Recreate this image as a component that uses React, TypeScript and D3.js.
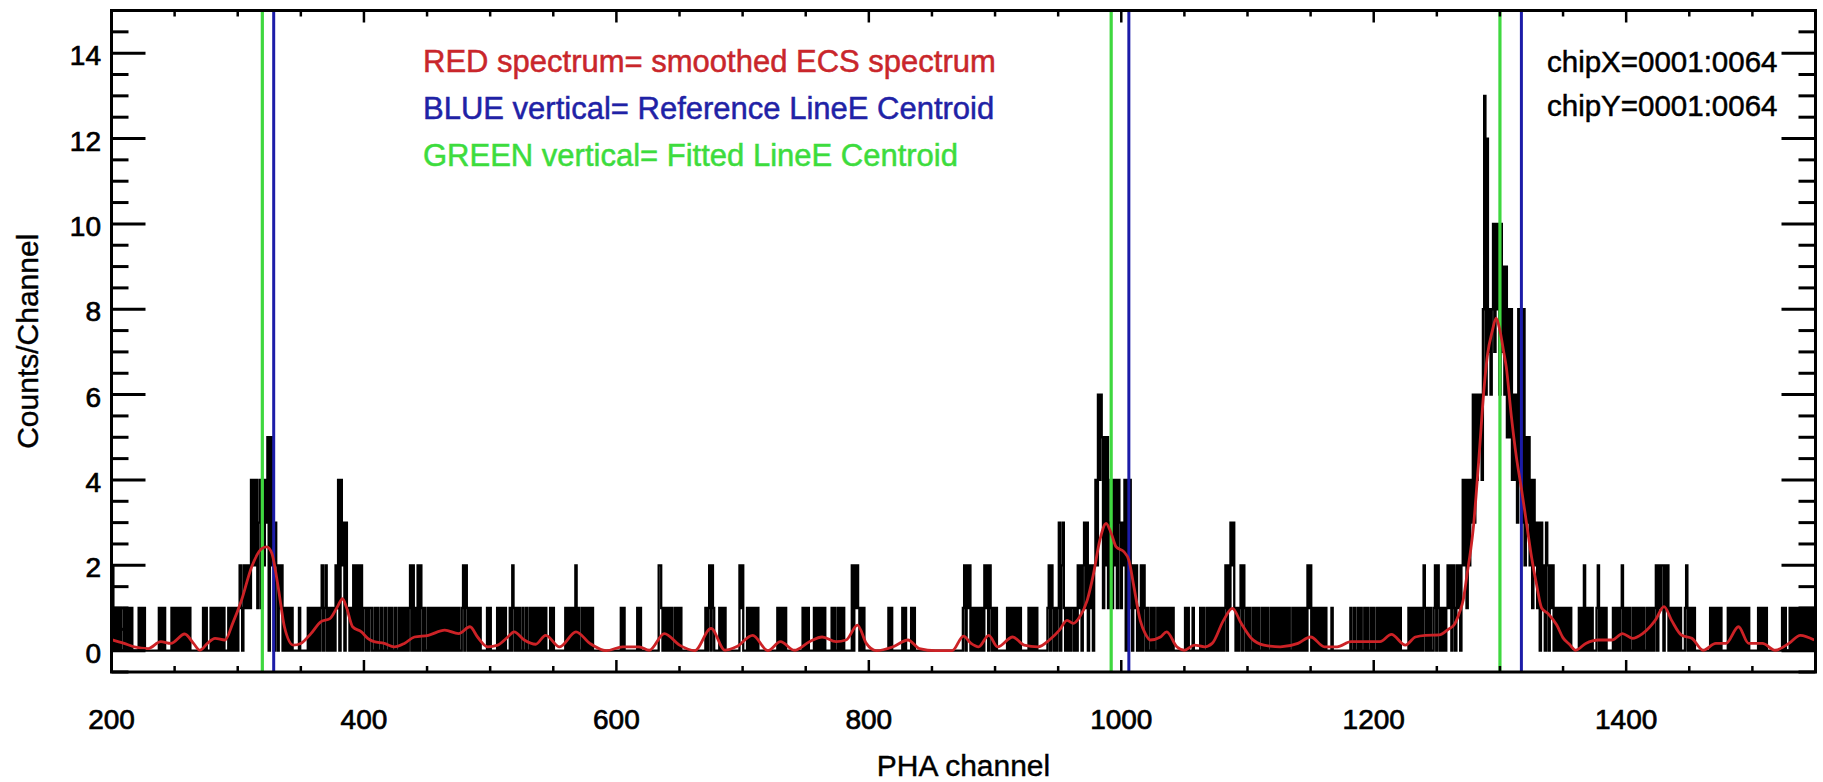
import React from "react";
import * as d3 from "d3";

// ---------- DATA ----------
const X_DOMAIN: [number, number] = [200, 1550];
const Y_DOMAIN: [number, number] = [-0.5, 15];
const X_TICKS = [200, 400, 600, 800, 1000, 1200, 1400];
const Y_TICKS = [0, 2, 4, 6, 8, 10, 12, 14];
const X_MINOR_STEP = 50;
const Y_MINOR_STEP = 0.5;

const FIRST_CHANNEL = 200;
// counts per channel (hex digit per channel), 10 channels per string
const COUNTS_200_499 = [
  "1201010100", "1010101000", "0010101000", "0000000010", "1010000010",
  "1010101010", "1010000000", "0001010001", "0101010101", "0001010101",
  "0121021212", "1424241341", "4243505250", "3202120101", "0101000001",
  "0000001010", "1010101201", "2010101021", "4042303110", "1020202020",
  "1101011001", "0100100100", "1010010010", "1010101202", "0102021010",
  "0101010101", "0101010101", "0101010012", "0210101010", "1010000010",
];
const COUNTS_500_799 = [
  "1000001010", "1010001021", "0101001001", "0010101010", "1010100010",
  "1000000000", "1010101020", "1001010101", "0100000000", "0000000000",
  "0000101000", "0000000101", "0000000000", "0000221010", "1010100101",
  "0100000000", "0000000000", "0101202100", "0010101000", "0000000021",
  "2000101010", "1010000000", "0000000010", "1010100000", "0000000010",
  "1010000101", "0101010000", "0101001010", "1000000202", "1210101000",
];
const COUNTS_800_1099 = [
  "0000000000", "0000001010", "0000000101", "0000101000", "0000000000",
  "0000000000", "0000000000", "0000012021", "2010101010", "1021202101",
  "0100000000", "1010101010", "1000000101", "0101000000", "0012021010",
  "1302310101", "0110102120", "2313021202", "4264651525", "1341424143",
  "1324041420", "2120102021", "0100101001", "0101010101", "0100000000",
  "0101000100", "0001010010", "1010101010", "1012021323", "1010120210",
];
const COUNTS_1100_1399 = [
  "1010010101", "0010101001", "0101010101", "0101001010", "1010101021",
  "2010101010", "1010000100", "0000000000", "0010010010", "1001010010",
  "1001010101", "0101010101", "0100000010", "1010101010", "2101010012",
  "0210101012", "1202102120", "2424142436", "36465648d6", "c7868a7a8a",
  "6a79695858", "4646384838", "2535241423", "1303120320", "2120101010",
  "1010101000", "0001010201", "0101000120", "1010100000", "1010101201",
];
const COUNTS_1400_1549 = [
  "0101001010", "1010100101", "0101202122", "0212010101", "0101000120",
  "1010100000", "0000000101", "0101010000", "0101010101", "0101010100",
  "0000010101", "0100000000", "0000101000", "1010101010", "1010101010",
];

// smoothed ECS spectrum (red), read at sample channels
const SMOOTH_CH = [
  200, 210, 218, 229, 239, 247, 258, 265, 270, 276, 282, 290, 296, 303, 311, 319, 323, 327, 332, 337,
  344, 350, 358, 366, 373, 379, 383, 386, 391, 398, 403, 408, 416, 424, 432, 440, 451, 464, 475, 484,
  490, 498, 506, 514, 519, 527, 536, 544, 555, 568, 579, 592, 605, 618, 626, 638, 650, 662, 675, 686,
  695, 708, 720, 730, 741, 753, 763, 774, 782, 791, 798, 806, 819, 831, 840, 853, 866, 875, 881, 887,
  895, 902, 914, 923, 934, 943, 951, 957, 962, 967, 973, 978, 983, 988, 992, 996, 1002, 1006, 1010, 1015,
  1019, 1023, 1031, 1036, 1044, 1050, 1058, 1066, 1072, 1081, 1088, 1095, 1103, 1113, 1126, 1140, 1150, 1161, 1171, 1182,
  1192, 1205, 1214, 1225, 1233, 1241, 1252, 1259, 1264, 1268, 1271, 1274, 1277, 1279, 1281, 1284, 1287, 1290, 1294, 1297,
  1300, 1303, 1305, 1309, 1313, 1317, 1321, 1325, 1329, 1333, 1338, 1345, 1350, 1355, 1360, 1368, 1378, 1389, 1397, 1405,
  1413, 1423, 1430, 1436, 1444, 1452, 1461, 1471, 1479, 1489, 1497, 1508, 1518, 1529, 1538, 1549,
];
const SMOOTH_VAL = [
  0.26, 0.17, 0.09, 0.05, 0.21, 0.17, 0.39, 0.17, 0.01, 0.17, 0.29, 0.25, 0.64, 1.18, 1.96, 2.39, 2.43, 2.28, 1.5, 0.56,
  0.13, 0.17, 0.4, 0.68, 0.75, 1.03, 1.22, 1.03, 0.56, 0.44, 0.29, 0.21, 0.17, 0.09, 0.17, 0.32, 0.36, 0.48, 0.4, 0.56,
  0.32, 0.09, 0.13, 0.32, 0.44, 0.25, 0.15, 0.36, 0.09, 0.44, 0.17, 0.0, 0.09, 0.09, 0.01, 0.4, 0.13, 0.0, 0.52, 0.01,
  0.09, 0.36, 0.0, 0.21, 0.01, 0.21, 0.32, 0.21, 0.25, 0.6, 0.17, 0.0, 0.09, 0.25, 0.05, 0.0, 0.0, 0.34, 0.17, 0.09,
  0.36, 0.09, 0.32, 0.13, 0.09, 0.25, 0.48, 0.71, 0.64, 0.79, 1.18, 1.8, 2.59, 2.98, 2.75, 2.43, 2.32, 2.12, 1.5, 0.71,
  0.4, 0.25, 0.32, 0.44, 0.09, 0.01, 0.13, 0.09, 0.17, 0.71, 0.99, 0.64, 0.29, 0.13, 0.09, 0.17, 0.32, 0.09, 0.09, 0.21,
  0.21, 0.21, 0.38, 0.13, 0.32, 0.36, 0.37, 0.5, 0.62, 0.9, 1.2, 1.8, 2.4, 2.9, 3.6, 4.78, 6.0, 6.9, 7.5, 7.79,
  7.5, 7.0, 6.65, 5.5, 4.54, 3.8, 3.0, 2.2, 1.55, 1.0, 0.87, 0.6, 0.3, 0.15, 0.01, 0.17, 0.25, 0.25, 0.4, 0.29,
  0.4, 0.71, 1.03, 0.71, 0.36, 0.29, 0.01, 0.17, 0.17, 0.56, 0.17, 0.17, 0.01, 0.17, 0.36, 0.25,
];

const REFERENCE_CENTROIDS = [328.5, 1006, 1317]; // blue
const FITTED_CENTROIDS = [319.5, 992, 1300]; // green

const LEGEND_LINES = [
  "RED spectrum= smoothed ECS spectrum",
  "BLUE vertical= Reference LineE Centroid",
  "GREEN vertical= Fitted LineE Centroid",
];
const CHIP_LABELS = ["chipX=0001:0064", "chipY=0001:0064"];
const X_TITLE = "PHA channel";
const Y_TITLE = "Counts/Channel";

// ---------- STYLE / LAYOUT ----------
const W = 1823;
const H = 782;
const PLOT = { left: 111.5, right: 1815.5, top: 10.5, bottom: 672 };
const FONT = "'Liberation Sans', Arial, Helvetica, sans-serif";
const RED = "#cc2226";
const BLUE = "#1c1ca8";
const GREEN = "#3fd83f";
const LEGEND_COLORS = ["#c9262b", "#1f22a6", "#3ddc3d"];
const TEXT_STROKE = 0.7;

export default function App() {
  const x = d3.scaleLinear().domain(X_DOMAIN).range([PLOT.left, PLOT.right]);
  const y = d3.scaleLinear().domain(Y_DOMAIN).range([PLOT.bottom, PLOT.top]);

  const counts = [
    ...COUNTS_200_499,
    ...COUNTS_500_799,
    ...COUNTS_800_1099,
    ...COUNTS_1100_1399,
    ...COUNTS_1400_1549,
  ]
    .join("")
    .split("")
    .map((c, i) => ({ ch: FIRST_CHANNEL + i, v: parseInt(c, 16) }));

  const histLine = d3
    .line<{ ch: number; v: number }>()
    .x((d) => x(d.ch))
    .y((d) => y(d.v))
    .curve(d3.curveStep);

  const smooth = SMOOTH_CH.map((c, i) => ({ ch: c, v: SMOOTH_VAL[i] }));
  const smoothLine = d3
    .line<{ ch: number; v: number }>()
    .x((d) => x(d.ch))
    .y((d) => y(d.v))
    .curve(d3.curveMonotoneX);

  const xMinor = d3.range(X_DOMAIN[0], X_DOMAIN[1] + 0.001, X_MINOR_STEP);
  const yMinor = d3.range(Y_DOMAIN[0], Y_DOMAIN[1] + 0.001, Y_MINOR_STEP);

  const xMajorLen = 12;
  const xMinorLen = 6;
  const yMajorLen = 34;
  const yMinorLen = 17;

  return (
    <svg
      width={W}
      height={H}
      viewBox={`0 0 ${W} ${H}`}
      style={{ position: "absolute", left: 0, top: 0, background: "#fff" }}
      fontFamily={FONT}
    >
      <rect x={0} y={0} width={W} height={H} fill="#fff" />
      <defs>
        <clipPath id="plotclip">
          <rect
            x={PLOT.left}
            y={PLOT.top}
            width={PLOT.right - PLOT.left}
            height={PLOT.bottom - PLOT.top}
          />
        </clipPath>
      </defs>

      <g clipPath="url(#plotclip)">
        <path d={histLine(counts) || ""} fill="none" stroke="#000" strokeWidth={2.3} />
        {FITTED_CENTROIDS.map((c, i) => (
          <line key={"g" + i} x1={x(c)} x2={x(c)} y1={PLOT.top} y2={PLOT.bottom} stroke={GREEN} strokeWidth={3.2} />
        ))}
        {REFERENCE_CENTROIDS.map((c, i) => (
          <line key={"b" + i} x1={x(c)} x2={x(c)} y1={PLOT.top} y2={PLOT.bottom} stroke={BLUE} strokeWidth={3} />
        ))}
        <path d={smoothLine(smooth) || ""} fill="none" stroke={RED} strokeWidth={2.8} strokeLinejoin="round" />
      </g>

      {/* axes frame */}
      <rect
        x={PLOT.left}
        y={PLOT.top}
        width={PLOT.right - PLOT.left}
        height={PLOT.bottom - PLOT.top}
        fill="none"
        stroke="#000"
        strokeWidth={3}
      />

      {/* x ticks */}
      {xMinor.map((t, i) => {
        const major = X_TICKS.includes(t);
        const len = major ? xMajorLen : xMinorLen;
        return (
          <g key={"xt" + i} stroke="#000" strokeWidth={2.5}>
            <line x1={x(t)} x2={x(t)} y1={PLOT.bottom} y2={PLOT.bottom - len} />
            <line x1={x(t)} x2={x(t)} y1={PLOT.top} y2={PLOT.top + len} />
          </g>
        );
      })}
      {/* y ticks */}
      {yMinor.map((t, i) => {
        const major = Y_TICKS.includes(t);
        const len = major ? yMajorLen : yMinorLen;
        return (
          <g key={"yt" + i} stroke="#000" strokeWidth={3}>
            <line x1={PLOT.left} x2={PLOT.left + len} y1={y(t)} y2={y(t)} />
            <line x1={PLOT.right} x2={PLOT.right - len} y1={y(t)} y2={y(t)} />
          </g>
        );
      })}

      {/* tick labels */}
      {X_TICKS.map((t) => (
        <text key={"xl" + t} x={x(t)} y={729} textAnchor="middle" fontSize={28} fill="#000" stroke="#000" strokeWidth={TEXT_STROKE}>
          {t}
        </text>
      ))}
      {Y_TICKS.map((t) => (
        <text key={"yl" + t} x={101} y={y(t) + 12} textAnchor="end" fontSize={28} fill="#000" stroke="#000" strokeWidth={TEXT_STROKE}>
          {t}
        </text>
      ))}

      {/* axis titles */}
      <text x={(PLOT.left + PLOT.right) / 2} y={776} textAnchor="middle" fontSize={30} fill="#000" stroke="#000" strokeWidth={0.4}>
        {X_TITLE}
      </text>
      <text
        transform={`translate(38, ${(PLOT.top + PLOT.bottom) / 2}) rotate(-90)`}
        textAnchor="middle"
        fontSize={30}
        fill="#000"
        stroke="#000"
        strokeWidth={0.4}
      >
        {Y_TITLE}
      </text>

      {/* legend */}
      {LEGEND_LINES.map((s, i) => (
        <text key={"lg" + i} x={423} y={72 + i * 47} fontSize={31} fill={LEGEND_COLORS[i]} stroke={LEGEND_COLORS[i]} strokeWidth={0.5}>
          {s}
        </text>
      ))}
      {CHIP_LABELS.map((s, i) => (
        <text key={"cl" + i} x={1547} y={72 + i * 44} fontSize={29.5} fill="#000" stroke="#000" strokeWidth={0.5}>
          {s}
        </text>
      ))}
    </svg>
  );
}
